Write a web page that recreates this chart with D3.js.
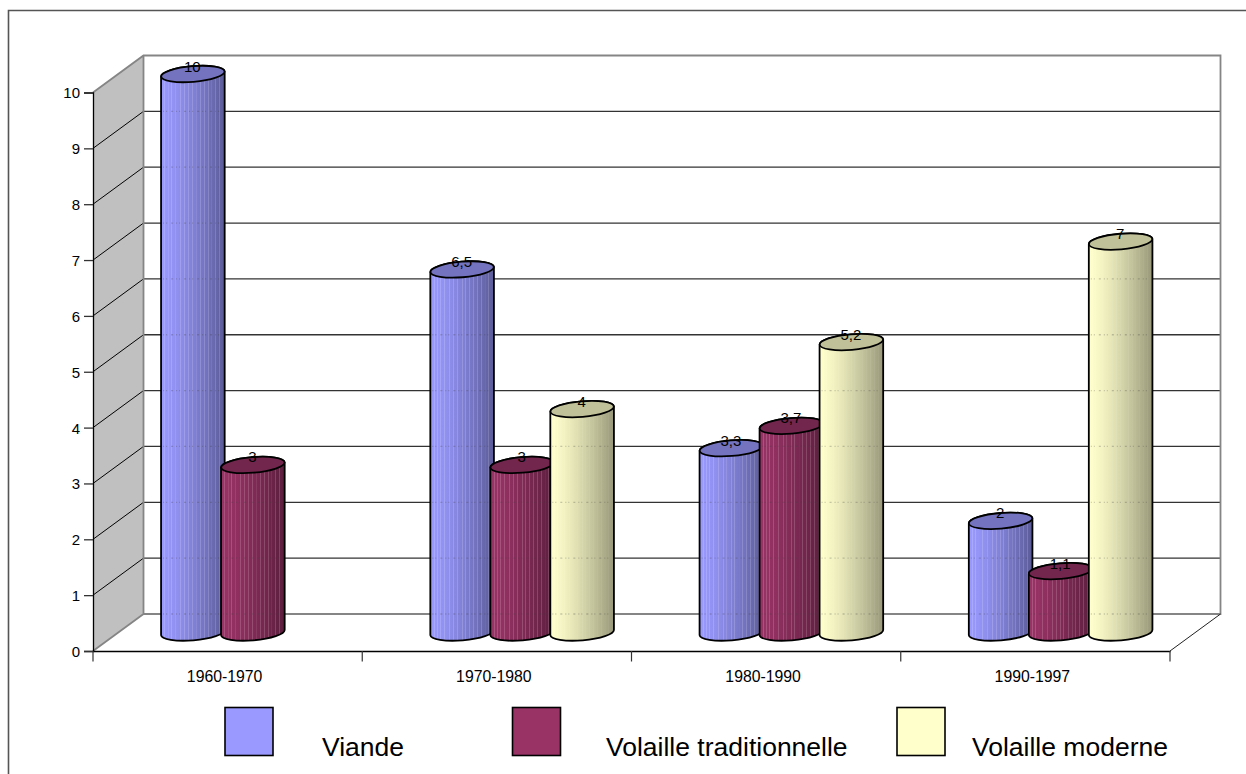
<!DOCTYPE html>
<html lang="fr">
<head>
<meta charset="utf-8">
<title>Viande et volaille</title>
<script src="https://cdnjs.cloudflare.com/ajax/libs/d3/7.8.5/d3.min.js"></script>
<style>
  html, body { margin: 0; padding: 0; background: #fff; overflow: hidden; }
  svg { display: block; }
  text { font-family: "Liberation Sans", Arial, sans-serif; fill: #000; }
</style>
</head>
<body>
<svg id="chart" width="1246" height="774"></svg>
<script>
// Chart values
const categories = ["1960-1970", "1970-1980", "1980-1990", "1990-1997"];
const seriesNames = ["Viande", "Volaille traditionnelle", "Volaille moderne"];
const viande = [10, 6.5, 3.3, 2];
const volailleTraditionnelle = [3, 3, 3.7, 1.1];
const volailleModerne = [null, 4, 5.2, 7];
const yTicks = [0, 1, 2, 3, 4, 5, 6, 7, 8, 9, 10];

const seriesValues = [viande, volailleTraditionnelle, volailleModerne];
const seriesColors = ["#9999ff", "#993366", "#ffffcc"];
const legendSwatchX = [225, 512.5, 897];
const legendLabelX = [322, 606, 972];

// Plot box: front plane plus the depth offset of the back wall
const plotLeft = 93, plotRight = 1170, plotBottom = 651, plotTop = 92.5;
const depthX = 50.5, depthY = -37;
const barPitch = 60, rx = 31.8, ry = 7.8, tilt = -4.8;

const svg = d3.select("#chart");
const y = d3.scaleLinear().domain([0, 10]).range([plotBottom, plotTop]);
const x = d3.scaleBand().domain(categories).range([plotLeft, plotRight]);
const fr = d3.formatLocale({ decimal: ",", thousands: " ", grouping: [3], currency: ["", " €"] });
const fmt = fr.format("~g");

// Outer frame, open on the right and at the bottom
svg.append("path")
  .attr("d", "M8.5,774V10.5H1246")
  .attr("fill", "none").attr("stroke", "#555").attr("stroke-width", 1.6);

// Side wall
svg.append("polygon")
  .attr("points", [[plotLeft, y(10)], [plotLeft + depthX, y(10) + depthY], [plotLeft + depthX, plotBottom + depthY], [plotLeft, plotBottom]].join(" "))
  .attr("fill", "#c0c0c0");

// Gridlines: across the side wall, then along the back wall
const grid = svg.append("g");
grid.selectAll("line.side").data(yTicks.slice(1, -1)).join("line")
  .attr("class", "side")
  .attr("x1", plotLeft).attr("y1", d => y(d))
  .attr("x2", plotLeft + depthX).attr("y2", d => y(d) + depthY)
  .attr("stroke", "#000").attr("stroke-width", 1);
grid.selectAll("line.back").data(yTicks.slice(1, -1)).join("line")
  .attr("class", "back")
  .attr("x1", plotLeft + depthX).attr("y1", d => y(d) + depthY)
  .attr("x2", plotRight + depthX).attr("y2", d => y(d) + depthY)
  .attr("stroke", "#333").attr("stroke-width", 1.3);

// Wall and floor outlines
const edge = "#858585";
svg.append("path")
  .attr("d", `M${plotLeft},${y(10)}L${plotLeft + depthX},${y(10) + depthY}H${plotRight + depthX}V${plotBottom + depthY}H${plotLeft + depthX}V${y(10) + depthY}M${plotLeft + depthX},${plotBottom + depthY}L${plotLeft},${plotBottom}`)
  .attr("fill", "none").attr("stroke", edge).attr("stroke-width", 1.8);
svg.append("line")
  .attr("x1", plotRight).attr("y1", plotBottom).attr("x2", plotRight + depthX).attr("y2", plotBottom + depthY)
  .attr("stroke", "#222").attr("stroke-width", 1);

// Cylinder shading: dark toward the right with narrow pale flutes
const defs = svg.append("defs");
const flutes = [.06, .11, .16, .22, .3, .37, .43, .5, .55, .62, .68, .74, .8, .86, .92];
seriesColors.forEach((c, i) => {
  const shade = d3.interpolateRgb(c, d3.rgb(c).darker(1.45));
  const tone = t => shade(Math.pow(t, 1.35));
  const g = defs.append("linearGradient").attr("id", "cyl" + i)
    .attr("x1", 0).attr("x2", 1).attr("y1", 0).attr("y2", 0);
  const stop = (o, col) => g.append("stop").attr("offset", o).attr("stop-color", col);
  stop(0, tone(0));
  flutes.forEach(f => {
    const pale = d3.interpolateRgb(tone(f), "#fff")(i === 2 ? 0.05 : 0.16);
    stop(f - .008, tone(f - .008));
    stop(f - .006, pale);
    stop(f + .006, pale);
    stop(f + .008, tone(f + .008));
  });
  stop(1, tone(1));
});

// Bars: each series steps across its band, later series sit on top
const baseY = plotBottom + depthY / 2;
const dyTilt = rx * Math.sin(-tilt * Math.PI / 180);
const barHeight = v => y(0) - y(v);
const barsLayer = svg.append("g");
const labelsLayer = svg.append("g");

categories.forEach((cat, ci) => {
  seriesValues.forEach((vals, si) => {
    const v = vals[ci];
    if (v == null) return;
    const cx = x(cat) + x.bandwidth() / 2 + depthX / 2 + (si - 1) * barPitch;
    const cyTop = baseY - barHeight(v);
    const lx = cx - rx, rxx = cx + rx;
    const g = barsLayer.append("g");
    g.append("path")
      .attr("d", `M${lx},${cyTop + dyTilt}L${lx},${baseY + dyTilt}` +
                 `A${rx},${ry} ${tilt} 0 0 ${rxx},${baseY - dyTilt}` +
                 `L${rxx},${cyTop - dyTilt}` +
                 `A${rx},${ry} ${tilt} 0 0 ${lx},${cyTop + dyTilt}Z`)
      .attr("fill", `url(#cyl${si})`)
      .attr("stroke", "#000").attr("stroke-width", 1.8).attr("stroke-linejoin", "round");

    // Back gridlines glimmering faintly through the cylinder
    const through = yTicks.slice(0, -1).filter(t => y(t) + depthY > cyTop + ry + 3);
    g.selectAll("line").data(through).join("line")
      .attr("x1", lx + 2).attr("x2", rxx - 2)
      .attr("y1", t => y(t) + depthY).attr("y2", t => y(t) + depthY)
      .attr("stroke", "#444").attr("stroke-opacity", .28).attr("stroke-width", 1.3)
      .attr("stroke-dasharray", "1 2 1 4 2 3");

    g.append("ellipse")
      .attr("transform", `translate(${cx},${cyTop}) rotate(${tilt})`)
      .attr("rx", rx).attr("ry", ry)
      .attr("fill", d3.rgb(seriesColors[si]).darker(0.8))
      .attr("stroke", "#000").attr("stroke-width", 1.8);

    labelsLayer.append("text")
      .attr("x", cx - 0.5).attr("y", cyTop - 2.5)
      .attr("text-anchor", "middle").attr("font-size", 15)
      .text(fmt(v));
  });
});

// Axis lines, ticks and tick labels
const yAxis = svg.append("g").attr("transform", `translate(${plotLeft},0)`)
  .call(d3.axisLeft(y).tickValues(yTicks).tickSize(9).tickPadding(4).tickFormat(d3.format("d")));
yAxis.select(".domain").attr("stroke", "#000").attr("stroke-width", 1.3);
yAxis.selectAll(".tick line").attr("stroke", "#333").attr("stroke-width", 1.3);
yAxis.selectAll("text").attr("font-size", 15).attr("font-family", null).attr("dy", "0.36em");

const xAxis = svg.append("g").attr("transform", `translate(0,${plotBottom})`)
  .call(d3.axisBottom(x).tickSize(0).tickPadding(0));
xAxis.select(".domain").attr("stroke", "#000").attr("stroke-width", 1.3);
xAxis.selectAll("text")
  .attr("font-size", 15.8).attr("font-family", null)
  .attr("dx", -3).attr("y", 30.5).attr("dy", 0);
svg.append("g").selectAll("line")
  .data(d3.range(categories.length + 1)).join("line")
  .attr("x1", i => plotLeft + i * x.step()).attr("x2", i => plotLeft + i * x.step())
  .attr("y1", plotBottom).attr("y2", plotBottom + 10.5)
  .attr("stroke", "#333").attr("stroke-width", 1.2);

// Legend
const legend = svg.append("g");
seriesNames.forEach((name, i) => {
  legend.append("rect")
    .attr("x", legendSwatchX[i]).attr("y", 707.5)
    .attr("width", 48).attr("height", 48)
    .attr("fill", seriesColors[i])
    .attr("stroke", "#000").attr("stroke-width", 1.6);
  legend.append("text")
    .attr("x", legendLabelX[i]).attr("y", 755.5)
    .attr("font-size", 26.5)
    .text(name);
});
</script>
</body>
</html>
